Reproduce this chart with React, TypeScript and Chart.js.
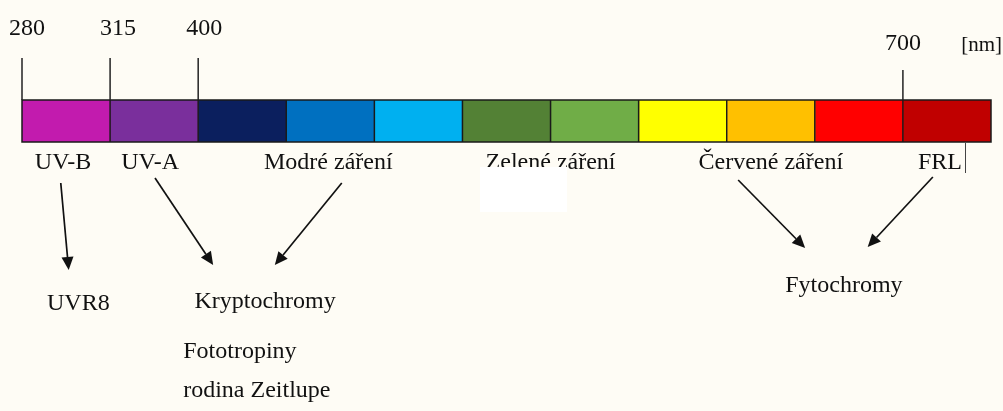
import React, { useEffect, useRef } from "react";
import { Chart, registerables } from "chart.js";

Chart.register(...registerables);

// Spectrum segments (equal-width blocks of the colour band)
const segmentColors = [
  "#C21BAE", "#7A2F9C", "#0B1F5E", "#0070C0", "#00B0F0",
  "#538135", "#70AD47", "#FFFF00", "#FFC000", "#FF0000", "#C00000",
];
const segmentValues = segmentColors.map(() => 1);

// Wavelength tick marks at segment boundaries
const tickBoundaries = [0, 1, 2, 10];
const tickLabels = ["280", "315", "400", "700"];
const unitLabel = "[nm]";

// Named spectral bands (start/end boundary)
const bandNames = ["UV-B", "UV-A", "Modré záření", "Zelené záření", "Červené záření", "FRL"];
const bandStart = [0, 1, 2, 5, 7, 10];
const bandEnd = [1, 2, 5, 7, 10, 11];

// Photoreceptors
const receptorNames = ["UVR8", "Kryptochromy", "Fytochromy"];
const receptorCenters = [0.64, 2.76, 9.33];
const extraReceptors = ["Fototropiny", "rodina Zeitlupe"];
const extraReceptorStart = 1.83;

// Arrows: from band label (x in segment units) to receptor
const arrowFromX = [0.44, 1.51, 3.63, 8.13, 10.34];
const arrowToX = [0.53, 2.17, 2.87, 8.89, 9.6];

export default function App() {
  const ref = useRef<HTMLCanvasElement | null>(null);

  useEffect(() => {
    const canvas = ref.current;
    if (!canvas) return;
    const font = (s: number) => `${s}px "Liberation Serif", "Times New Roman", serif`;
    const ink = "#111111";

    const arrowFromY = [183, 178, 183, 180, 177];
    const arrowToY = [270, 265, 265, 248, 247];
    const receptorBaselines = [310, 308, 292];
    const extraBaselines = [358, 397];
    const tickTop = [58, 58, 58, 70];
    const tickLabelDx = [5, 8, 6, 0];
    const tickLabelBase = [35, 35, 35, 50];
    const bandLabelDx = [-3, -4, -2, 0, 0, -7];

    const drawArrow = (ctx: CanvasRenderingContext2D, x1: number, y1: number, x2: number, y2: number) => {
      const ang = Math.atan2(y2 - y1, x2 - x1);
      const len = 13, half = 6;
      const bx = x2 - len * Math.cos(ang), by = y2 - len * Math.sin(ang);
      ctx.beginPath();
      ctx.moveTo(x1, y1);
      ctx.lineTo(bx, by);
      ctx.lineWidth = 1.7;
      ctx.strokeStyle = ink;
      ctx.stroke();
      ctx.beginPath();
      ctx.moveTo(x2, y2);
      ctx.lineTo(bx + half * Math.sin(ang), by - half * Math.cos(ang));
      ctx.lineTo(bx - half * Math.sin(ang), by + half * Math.cos(ang));
      ctx.closePath();
      ctx.fillStyle = ink;
      ctx.fill();
    };

    const overlay = {
      id: "spectrumOverlay",
      afterDatasetsDraw(chart: any) {
        const ctx: CanvasRenderingContext2D = chart.ctx;
        const xs = chart.scales.x;
        const area = chart.chartArea;
        ctx.save();
        // segment dividers
        ctx.strokeStyle = "#1a1a1a";
        ctx.lineWidth = 1.5;
        segmentValues.forEach((_, i) => {
          if (i === 0) return;
          const px = xs.getPixelForValue(i);
          ctx.beginPath();
          ctx.moveTo(px, area.top);
          ctx.lineTo(px, area.bottom);
          ctx.stroke();
        });
        // outer frame
        ctx.strokeRect(area.left, area.top, area.right - area.left, area.bottom - area.top);

        // tick lines + labels
        ctx.fillStyle = ink;
        ctx.textAlign = "center";
        ctx.textBaseline = "alphabetic";
        tickBoundaries.forEach((b, i) => {
          const px = xs.getPixelForValue(b);
          ctx.beginPath();
          ctx.moveTo(px, tickTop[i]);
          ctx.lineTo(px, area.top);
          ctx.lineWidth = 1.5;
          ctx.strokeStyle = "#222";
          ctx.stroke();
          ctx.font = font(24);
          ctx.fillText(tickLabels[i], px + tickLabelDx[i], tickLabelBase[i]);
        });
        ctx.font = font(21);
        ctx.textAlign = "right";
        ctx.fillText(unitLabel, 1002, 51);

        // band labels
        ctx.font = font(24);
        ctx.textAlign = "center";
        bandNames.forEach((n, i) => {
          const cx = (xs.getPixelForValue(bandStart[i]) + xs.getPixelForValue(bandEnd[i])) / 2;
          ctx.fillText(n, cx + bandLabelDx[i], area.bottom + 27);
        });
        // white patch over green label
        ctx.fillStyle = "#ffffff";
        ctx.fillRect(480, 167, 87, 45);
        // cursor mark after FRL
        ctx.beginPath();
        ctx.moveTo(965.5, area.bottom + 1);
        ctx.lineTo(965.5, area.bottom + 31);
        ctx.lineWidth = 1;
        ctx.strokeStyle = "#444";
        ctx.stroke();

        // arrows
        arrowFromX.forEach((fx, i) => {
          drawArrow(ctx, xs.getPixelForValue(fx), arrowFromY[i], xs.getPixelForValue(arrowToX[i]), arrowToY[i]);
        });

        // receptors
        ctx.fillStyle = ink;
        ctx.font = font(24);
        ctx.textAlign = "center";
        receptorNames.forEach((n, i) => {
          ctx.fillText(n, xs.getPixelForValue(receptorCenters[i]), receptorBaselines[i]);
        });
        ctx.textAlign = "left";
        extraReceptors.forEach((n, i) => {
          ctx.fillText(n, xs.getPixelForValue(extraReceptorStart), extraBaselines[i]);
        });
        ctx.restore();
      },
    };

    const chart = new Chart(canvas, {
      type: "bar",
      data: {
        labels: ["spectrum"],
        datasets: segmentColors.map((c, i) => ({
          label: `s${i}`,
          data: [segmentValues[i]],
          backgroundColor: c,
          borderWidth: 0,
          barPercentage: 1,
          categoryPercentage: 1,
          inflateAmount: 0.5,
        })),
      },
      options: {
        indexAxis: "y",
        responsive: false,
        animation: false,
        devicePixelRatio: 1,
        layout: { padding: { left: 22, right: 12, top: 100, bottom: 269 } },
        scales: {
          x: { type: "linear", min: 0, max: 11, stacked: true, display: false },
          y: { stacked: true, display: false },
        },
        plugins: { legend: { display: false }, tooltip: { enabled: false } },
      },
      plugins: [overlay],
    } as any);
    return () => chart.destroy();
  }, []);

  return (
    <div style={{ position: "fixed", left: 0, top: 0, width: 1003, height: 411, background: "#fefcf5" }}>
      <canvas ref={ref} width={1003} height={411} style={{ width: 1003, height: 411, display: "block" }} />
    </div>
  );
}
